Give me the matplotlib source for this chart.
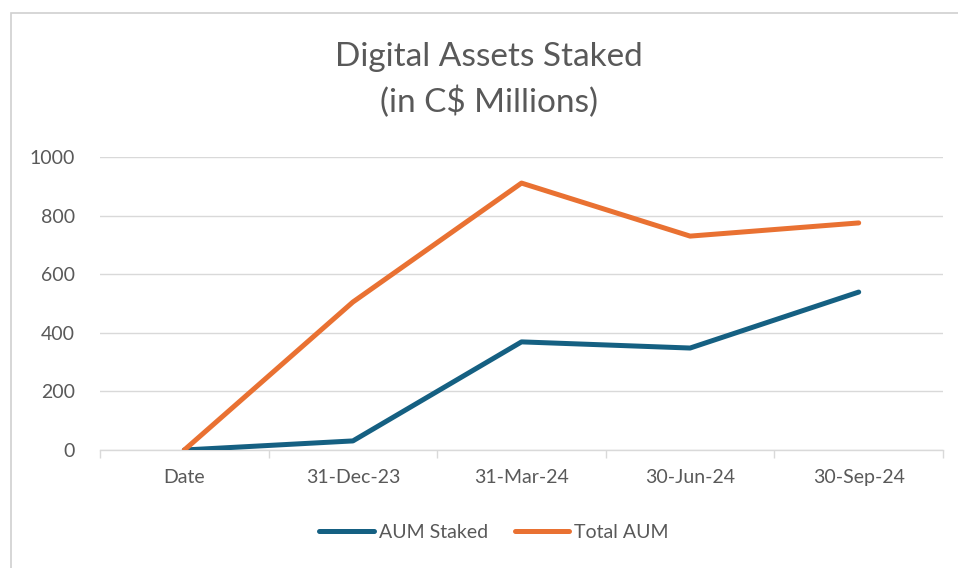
import matplotlib
matplotlib.use("Agg")
import matplotlib.pyplot as plt
from matplotlib.lines import Line2D
from matplotlib.patches import Rectangle

categories = ["Date", "31-Dec-23", "31-Mar-24", "30-Jun-24", "30-Sep-24"]
aum_staked = [0, 31, 369, 348, 539]
total_aum = [0, 505, 911, 730, 775]
y_ticks = [0, 200, 400, 600, 800, 1000]

BLUE = "#156082"
ORANGE = "#E97132"
TEXT = "#595959"
GRID = "#D9D9D9"

plt.rcParams["font.family"] = ["Lato", "DejaVu Sans"]

fig = plt.figure(figsize=(9.58, 5.68), dpi=100)
ax = fig.add_axes([100 / 958, 1 - 450 / 568, 843 / 958, 293 / 568])

x = list(range(len(categories)))
ax.plot(x, aum_staked, color=BLUE, lw=3.6, solid_capstyle="round", solid_joinstyle="round", zorder=3)
ax.plot(x, total_aum, color=ORANGE, lw=3.6, solid_capstyle="round", solid_joinstyle="round", zorder=3)

ax.set_xlim(-0.5, len(categories) - 0.5)
ax.set_ylim(0, 1000)
ax.set_yticks(y_ticks)
ax.set_yticklabels([str(v) for v in y_ticks])
ax.grid(axis="y", color=GRID, lw=1.0)
ax.set_axisbelow(True)

ax.set_xticks(x)
ax.set_xticklabels(categories)
ax.set_xticks([i - 0.5 for i in range(len(categories) + 1)], minor=True)
ax.tick_params(axis="x", which="major", length=0, pad=14, labelsize=14, labelcolor=TEXT)
ax.tick_params(axis="x", which="minor", length=6, color=GRID, width=1.0)
ax.tick_params(axis="y", length=0, pad=18, labelsize=14, labelcolor=TEXT)

for side in ["top", "right", "left"]:
    ax.spines[side].set_visible(False)
ax.spines["bottom"].set_color(GRID)
ax.spines["bottom"].set_linewidth(1.0)

fig.text(0.51, 1 - 57 / 568, "Digital Assets Staked", ha="center", va="center",
         fontsize=24, color=TEXT)
fig.text(0.51, 1 - 102 / 568, "(in C$ Millions)", ha="center", va="center",
         fontsize=24, color=TEXT)

handles = [Line2D([0], [0], color=BLUE, lw=3.6, solid_capstyle="round"),
           Line2D([0], [0], color=ORANGE, lw=3.6, solid_capstyle="round")]
fig.legend(handles, ["AUM Staked", "Total AUM"], loc="center", bbox_to_anchor=(494 / 958, 1 - 532 / 568),
           ncol=2, frameon=False, fontsize=14, labelcolor=TEXT, handlelength=2.8,
           handletextpad=0.25, columnspacing=1.4)

fig.patches.append(Rectangle((11 / 958, -0.1), 1.2, 1.1 - 13 / 568, transform=fig.transFigure,
                             fill=False, edgecolor="#D0D0D0", lw=1.2))

fig.savefig("out.png", dpi=100)
